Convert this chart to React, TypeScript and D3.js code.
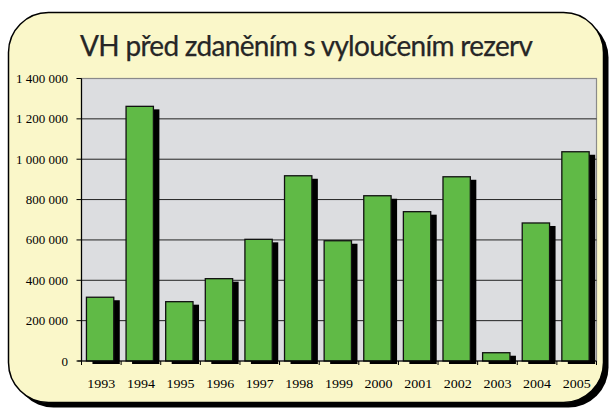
import * as d3 from "d3"

const TITLE = "VH před zdaněním s vyloučením rezerv"
const YEARS = ["1993", "1994", "1995", "1996", "1997", "1998", "1999", "2000", "2001", "2002", "2003", "2004", "2005"]
const VALUES = [316000, 1262000, 294000, 408000, 603000, 918000, 596000, 819000, 740000, 913000, 41000, 684000, 1037000]
const Y_TICKS = [0, 200000, 400000, 600000, 800000, 1000000, 1200000, 1400000]

const WIDTH = 613
const HEIGHT = 411
const PLOT = { left: 81.5, right: 596.5, top: 78.5, bottom: 361 }

const fmt = (v: number) => d3.format(",")(v).replace(/,/g, " ")

export default function App() {
  const x = d3.scaleBand<string>().domain(YEARS).range([PLOT.left, PLOT.right]).padding(0)
  const y = d3.scaleLinear().domain([0, 1400000]).range([PLOT.bottom, PLOT.top])
  const bw = x.bandwidth()
  const barOffset = bw * 0.125
  const barWidth = bw * 0.69

  return (
    <svg
      width={WIDTH}
      height={HEIGHT}
      style={{ position: "fixed", left: 0, top: 0, background: "#ffffff" }}
    >
      {/* panel with drop shadow */}
      <rect x={13.5} y={17.5} width={595} height={390} rx={40} fill="#000" />
      <rect x={8.5} y={12.5} width={595} height={390} rx={40} fill="#faf7c9" stroke="#000" strokeWidth={1.5} />

      <text
        x={306.5}
        y={56}
        textAnchor="middle"
        fontFamily="Lato, sans-serif"
        fontSize={28}
        fontWeight={400}
        fill="#262626"
        stroke="#262626"
        strokeWidth={0.25}
        textLength={453}
        lengthAdjust="spacing"
      >
        {TITLE}
      </text>

      {/* plot area */}
      <rect
        x={PLOT.left}
        y={PLOT.top}
        width={PLOT.right - PLOT.left}
        height={PLOT.bottom - PLOT.top}
        fill="#dcdde0"
        stroke="#8a8a8a"
        strokeWidth={1.2}
      />
      {Y_TICKS.filter((t) => t > 0 && t < 1400000).map((t) => (
        <line key={t} x1={PLOT.left} x2={PLOT.right} y1={y(t)} y2={y(t)} stroke="#222" strokeWidth={1} />
      ))}

      {/* bars */}
      {YEARS.map((yr, i) => {
        const bx = (x(yr) ?? 0) + barOffset
        const by = y(VALUES[i])
        const h = PLOT.bottom - by
        return (
          <g key={yr}>
            <rect x={bx + 6} y={by + 3} width={barWidth} height={h} fill="#000" />
            <rect x={bx} y={by} width={barWidth} height={h} fill="#60ba46" stroke="#111" strokeWidth={1.3} />
          </g>
        )
      })}

      {/* axes */}
      <line x1={PLOT.left} x2={PLOT.left} y1={PLOT.top} y2={PLOT.bottom} stroke="#000" strokeWidth={1.2} />
      <line x1={PLOT.left - 4} x2={PLOT.right} y1={PLOT.bottom} y2={PLOT.bottom} stroke="#000" strokeWidth={1.2} />
      {Y_TICKS.map((t) => (
        <g key={t}>
          <line x1={PLOT.left - 5} x2={PLOT.left} y1={y(t)} y2={y(t)} stroke="#000" strokeWidth={1} />
          <text
            x={68}
            y={y(t) + 4.5}
            textAnchor="end"
            fontFamily="'Liberation Serif', serif"
            fontSize={13}
            fill="#000"
          >
            {fmt(t)}
          </text>
        </g>
      ))}
      {YEARS.map((yr) => (
        <line
          key={"t" + yr}
          x1={x(yr) ?? 0}
          x2={x(yr) ?? 0}
          y1={PLOT.bottom}
          y2={PLOT.bottom + 4}
          stroke="#000"
          strokeWidth={1}
        />
      ))}
      <line x1={PLOT.right} x2={PLOT.right} y1={PLOT.bottom} y2={PLOT.bottom + 4} stroke="#000" strokeWidth={1} />
      {YEARS.map((yr) => (
        <text
          key={"l" + yr}
          x={(x(yr) ?? 0) + bw / 2}
          y={388}
          textAnchor="middle"
          fontFamily="'Liberation Serif', serif"
          fontSize={13}
          fill="#000"
          textLength={28}
          lengthAdjust="spacingAndGlyphs"
        >
          {yr}
        </text>
      ))}
    </svg>
  )
}
